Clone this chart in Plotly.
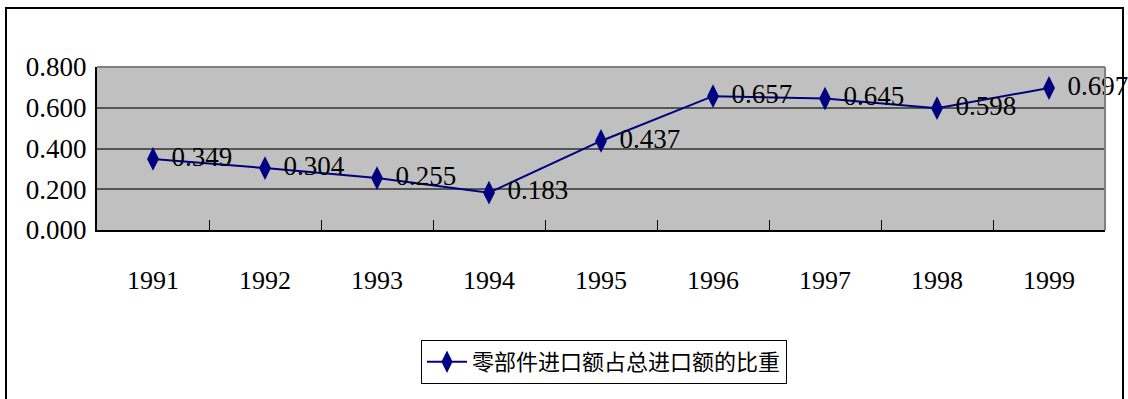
import plotly.graph_objects as go

years = ["1991", "1992", "1993", "1994", "1995", "1996", "1997", "1998", "1999"]
shares = [0.349, 0.304, 0.255, 0.183, 0.437, 0.657, 0.645, 0.598, 0.697]
series_name = "零部件进口额占总进口额的比重"
y_ticks = [0.0, 0.2, 0.4, 0.6, 0.8]

W, H = 1128, 399
L, R, T, B = 97, 23, 67, 169
pw, ph = W - L - R, H - T - B

SERIF = "'Liberation Serif', 'Times New Roman', 'DejaVu Serif', serif"

def px_to_paper_x(x):
    return (x - L) / pw

def px_to_paper_y(y):
    return (H - B - y) / ph

fig = go.Figure()
fig.add_trace(go.Scatter(
    x=years, y=shares, name=series_name,
    mode="lines+markers+text",
    line=dict(color="#000080", width=2),
    marker=dict(symbol="diamond-tall", size=17, color="#000080"),
    text=[f" {v:.3f}" for v in shares],
    textposition="middle right",
    textfont=dict(family=SERIF, size=27, color="#000000"),
    cliponaxis=False,
    showlegend=True,
))

fig.update_layout(
    width=W, height=H,
    margin=dict(l=L, r=R, t=T, b=B),
    paper_bgcolor="white",
    plot_bgcolor="#C0C0C0",
    font=dict(family=SERIF, color="#000000"),
    xaxis=dict(
        type="category",
        tickson="boundaries",
        ticks="inside", ticklen=10, tickcolor="black", tickwidth=1,
        showgrid=False,
        showline=True, linecolor="black", linewidth=2,
        tickfont=dict(family=SERIF, size=26),
        ticklabelstandoff=26,
        range=[-0.5, 8.5],
    ),
    yaxis=dict(
        range=[0, 0.8],
        tickvals=y_ticks,
        ticktext=[f"{v:.3f}" for v in y_ticks],
        showgrid=True, gridcolor="#555555", gridwidth=1.5,
        showline=True, linecolor="black", linewidth=2,
        ticks="", zeroline=False,
        tickfont=dict(family=SERIF, size=27),
        ticklabelstandoff=3,
    ),
    legend=dict(
        x=px_to_paper_x(421), y=px_to_paper_y(340),
        xanchor="left", yanchor="top",
        bordercolor="black", borderwidth=1,
        bgcolor="white",
        font=dict(family="'Noto Sans CJK SC', sans-serif", size=22, color="black"),
        itemwidth=40,
        tracegroupgap=0,
    ),
    shapes=[
        dict(type="line", xref="paper", yref="paper", x0=0, x1=1, y0=1, y1=1,
             line=dict(color="#808080", width=2)),
        dict(type="line", xref="paper", yref="paper", x0=1, x1=1, y0=0, y1=1,
             line=dict(color="#808080", width=2)),
        dict(type="rect", xref="paper", yref="paper",
             x0=px_to_paper_x(6), x1=px_to_paper_x(1123),
             y0=px_to_paper_y(410), y1=px_to_paper_y(8),
             line=dict(color="black", width=2), fillcolor="rgba(0,0,0,0)",
             layer="above"),
    ],
)

fig.write_html("out.html")
